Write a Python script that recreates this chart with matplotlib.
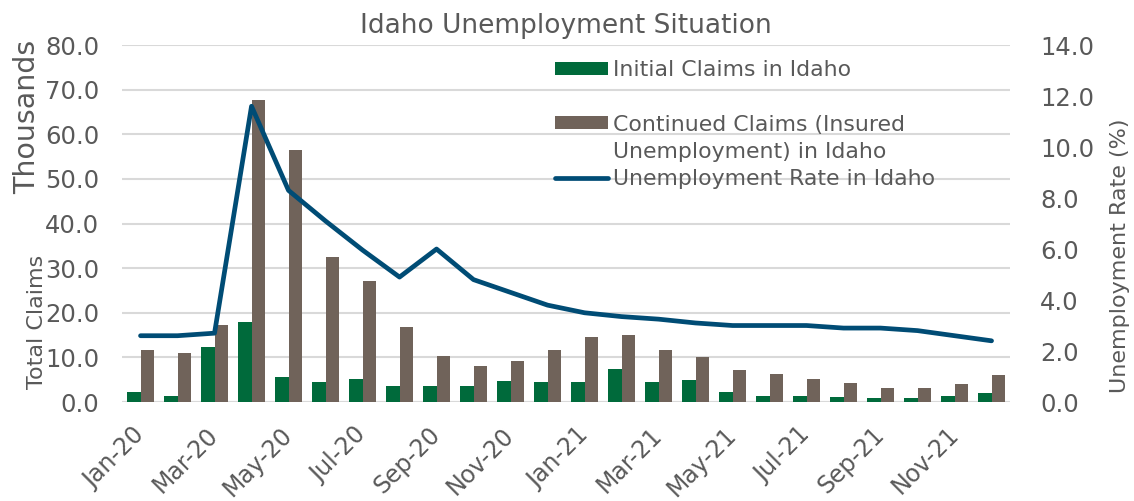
import matplotlib.pyplot as plt
from matplotlib.patches import Rectangle
import numpy as np

# months shown on the x axis
months = ["Jan-20", "Feb-20", "Mar-20", "Apr-20", "May-20", "Jun-20",
          "Jul-20", "Aug-20", "Sep-20", "Oct-20", "Nov-20", "Dec-20",
          "Jan-21", "Feb-21", "Mar-21", "Apr-21", "May-21", "Jun-21",
          "Jul-21", "Aug-21", "Sep-21", "Oct-21", "Nov-21", "Dec-21"]

# claims in thousands
initial_claims = [2.3, 1.35, 12.3, 17.9, 5.5, 4.4, 5.2, 3.65, 3.5, 3.6, 4.7, 4.4,
                  4.55, 7.3, 4.55, 4.9, 2.3, 1.4, 1.3, 1.05, 0.9, 0.95, 1.4, 1.95]
continued_claims = [11.7, 11.05, 17.2, 67.7, 56.4, 32.6, 27.1, 16.7, 10.4, 8.1, 9.3, 11.7,
                    14.5, 15.0, 11.65, 10.1, 7.2, 6.2, 5.1, 4.2, 3.1, 3.1, 4.0, 6.05]

# unemployment rate (%)
unemp_rate = [2.6, 2.6, 2.7, 11.6, 8.3, 7.1, 5.96, 4.9, 6.0, 4.8, 4.3, 3.8,
              3.5, 3.35, 3.25, 3.1, 3.0, 3.0, 3.0, 2.9, 2.9, 2.8, 2.6, 2.4]

green = "#006A3B"
brown = "#70635A"
blue = "#004C75"
grey = "#595959"

fig = plt.figure(figsize=(11.34, 5.01), dpi=100)
ax = fig.add_axes([0.1076, 0.1976, 0.7831, 0.7124])
ax2 = ax.twinx()

x = np.arange(len(months))
w = 0.365
b1 = ax.bar(x - w / 2, initial_claims, w, color=green, zorder=2)
b2 = ax.bar(x + w / 2, continued_claims, w, color=brown, zorder=2)
l1, = ax2.plot(x, unemp_rate, color=blue, lw=3.4, solid_capstyle="round",
               solid_joinstyle="round")

ax.set_xlim(-0.5, len(months) - 0.5)
ax.set_ylim(0, 80)
ax2.set_ylim(0, 14)
ax.set_yticks(np.arange(0, 81, 10))
ax2.set_yticks(np.arange(0, 15, 2))
ax.set_yticklabels([f"{v:.1f}" for v in np.arange(0, 81, 10)])
ax2.set_yticklabels([f"{v:.1f}" for v in np.arange(0, 15, 2)])

ax.set_xticks(x[::2])
ax.set_xticklabels(months[::2], rotation=45, ha="right", va="center",
                   rotation_mode="anchor")

ax.grid(axis="y", color="#D9D9D9", lw=1.5, zorder=0)
ax.set_axisbelow(True)
for a in (ax, ax2):
    for s in a.spines.values():
        s.set_visible(False)
    a.tick_params(length=0, colors=grey, labelsize=17.5)
ax.tick_params(axis="x", labelsize=17, pad=21)
ax.tick_params(axis="y", pad=16.5)
ax2.tick_params(axis="y", pad=21.5)
ax.axhline(0, color="#D9D9D9", lw=1.5, zorder=1)

ax.set_title("Idaho Unemployment Situation", color=grey, fontsize=19, pad=9)
fig.text(0.024, 0.766, "Thousands", rotation=90, color=grey, fontsize=20.5,
         ha="center", va="center")
fig.text(0.033, 0.357, "Total Claims", rotation=90, color=grey, fontsize=16,
         ha="center", va="center")
fig.text(0.988, 0.489, "Unemployment Rate (%)", rotation=90, color=grey,
         fontsize=16, ha="center", va="center")

# legend rows follow the Excel layout: blank row before the two-line entry
blank = Rectangle((0, 0), 1, 1, visible=False)
handles = [b1, blank, b2, blank, l1]
labels = ["Initial Claims in Idaho", "", "Continued Claims (Insured",
          "Unemployment) in Idaho", "Unemployment Rate in Idaho"]
ax.legend(handles=handles, labels=labels, loc="upper left",
          bbox_to_anchor=(0.4876, 0.958), frameon=False, fontsize=15.8,
          labelcolor=grey, handlelength=2.4, handleheight=0.55,
          handletextpad=0.23, labelspacing=0.33, borderpad=0, borderaxespad=0)

fig.savefig("out.png", dpi=100)
